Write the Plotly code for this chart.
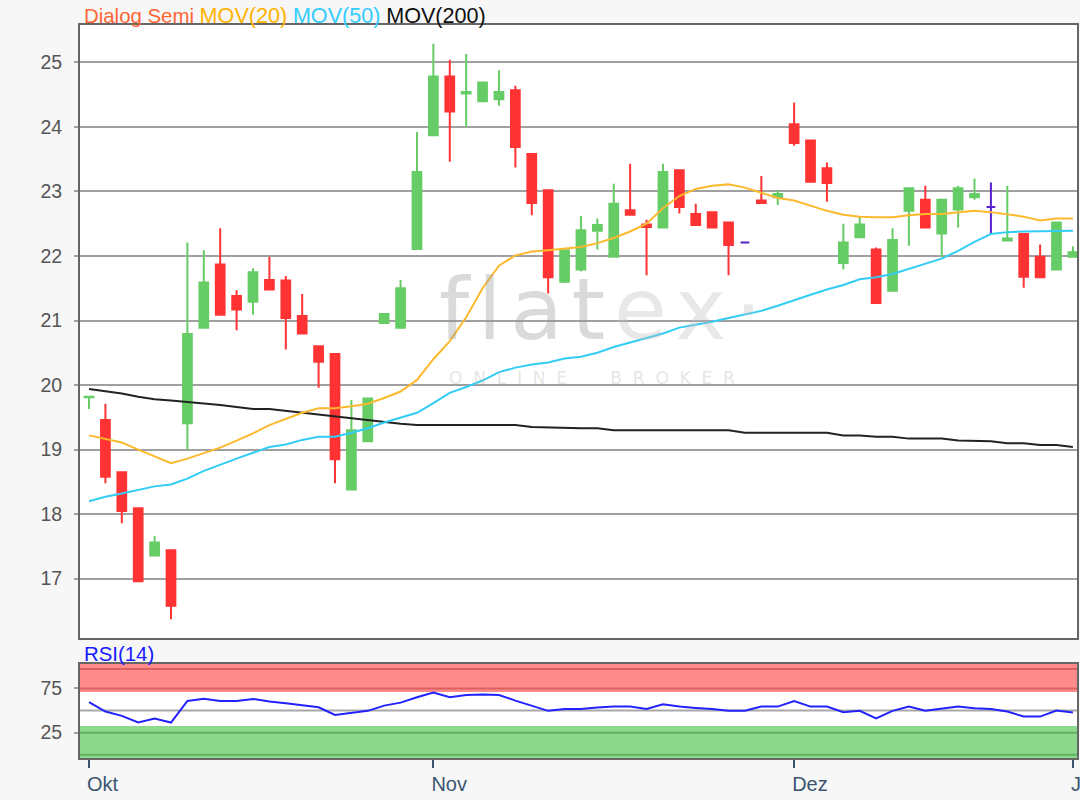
import plotly.graph_objects as go

# -----------------------------
# Daten
# -----------------------------
tage = list(range(61))

eroeffnung = [19.81, 19.46, 18.65, 18.09, 17.36, 17.44, 19.41, 20.89, 21.87, 21.38,
              21.29, 21.63, 21.62, 21.07, 20.60, 20.48, 18.38, 19.13, 20.96, 20.89,
              22.11, 23.87, 24.78, 24.52, 24.40, 24.43, 24.57, 23.58, 23.02, 21.60,
              21.79, 22.39, 21.99, 22.71, 22.49, 22.44, 23.33, 22.65, 22.68, 22.52,
              22.21, 22.86, 22.91, 24.04, 23.79, 23.36, 21.89, 22.29, 22.10, 21.46,
              22.70, 22.87, 22.35, 22.72, 22.91, 22.76, 22.24, 22.34, 21.99, 21.79,
              21.99]
hoch = [19.82, 19.71, 18.65, 18.09, 17.66, 17.44, 22.21, 22.09, 22.43, 21.47,
        21.81, 21.99, 21.69, 21.41, 20.60, 20.48, 19.77, 19.79, 21.10, 21.63,
        23.92, 25.29, 25.04, 25.13, 24.69, 24.88, 24.64, 23.58, 23.02, 22.09,
        22.62, 22.58, 23.12, 23.43, 22.56, 23.43, 23.33, 22.81, 22.68, 22.52,
        22.21, 23.24, 23.01, 24.38, 23.79, 23.45, 22.50, 22.60, 22.13, 22.43,
        23.05, 23.09, 22.87, 23.09, 23.20, 23.14, 23.09, 22.34, 22.18, 22.52,
        22.15]
tief = [19.63, 18.48, 17.86, 16.96, 17.36, 16.37, 19.00, 20.89, 21.09, 20.85,
        21.09, 21.48, 20.55, 20.80, 19.96, 18.48, 18.38, 19.13, 20.96, 20.89,
        22.11, 23.87, 23.46, 24.00, 24.40, 24.33, 23.37, 22.63, 21.42, 21.58,
        21.76, 22.10, 21.99, 22.64, 21.70, 22.44, 22.66, 22.48, 22.44, 21.70,
        22.21, 22.82, 22.79, 23.71, 23.15, 22.84, 21.79, 22.29, 21.27, 21.46,
        22.16, 22.44, 21.98, 22.44, 22.87, 22.34, 22.24, 21.51, 21.67, 21.79,
        21.99]
schluss = [19.82, 18.58, 18.05, 16.96, 17.56, 16.58, 20.79, 21.59, 21.09, 21.17,
           21.75, 21.48, 21.04, 20.80, 20.36, 18.85, 19.30, 19.79, 21.10, 21.50,
           23.30, 24.78, 24.24, 24.54, 24.69, 24.54, 23.69, 22.82, 21.67, 22.09,
           22.40, 22.48, 22.81, 22.64, 22.45, 23.30, 22.76, 22.48, 22.44, 22.17,
           22.21, 22.82, 22.96, 23.75, 23.15, 23.13, 22.21, 22.49, 21.27, 22.25,
           23.05, 22.44, 22.87, 23.05, 22.96, 22.76, 22.27, 21.68, 21.67, 22.52,
           22.06]

mov20 = [19.22, 19.17, 19.11, 19.00, 18.90, 18.79, 18.86, 18.94, 19.03, 19.14,
         19.25, 19.38, 19.48, 19.57, 19.64, 19.64, 19.67, 19.71, 19.80, 19.90,
         20.08, 20.40, 20.68, 21.05, 21.50, 21.85, 22.01, 22.07, 22.09, 22.11,
         22.14, 22.20, 22.28, 22.38, 22.50, 22.74, 22.93, 23.04, 23.09, 23.11,
         23.06, 22.98, 22.90, 22.86, 22.78, 22.70, 22.64, 22.61, 22.60, 22.60,
         22.63, 22.65, 22.65, 22.68, 22.70, 22.68, 22.65, 22.61, 22.55, 22.58,
         22.58]
mov50 = [18.20, 18.27, 18.32, 18.38, 18.43, 18.46, 18.55, 18.67, 18.77, 18.86,
         18.95, 19.04, 19.08, 19.15, 19.20, 19.20, 19.26, 19.33, 19.42, 19.50,
         19.57, 19.72, 19.88, 19.97, 20.07, 20.20, 20.27, 20.32, 20.35, 20.41,
         20.44, 20.50, 20.59, 20.66, 20.73, 20.80, 20.89, 20.93, 20.98, 21.04,
         21.10, 21.15, 21.23, 21.32, 21.40, 21.48, 21.55, 21.64, 21.67, 21.72,
         21.80, 21.88, 21.96, 22.08, 22.22, 22.34, 22.37, 22.38, 22.38, 22.39,
         22.39]
mov200 = [19.94, 19.91, 19.87, 19.82, 19.78, 19.76, 19.74, 19.72, 19.69, 19.66,
          19.63, 19.63, 19.60, 19.57, 19.54, 19.52, 19.49, 19.46, 19.42, 19.40,
          19.38, 19.38, 19.38, 19.38, 19.38, 19.38, 19.38, 19.35, 19.34, 19.33,
          19.33, 19.33, 19.30, 19.30, 19.30, 19.30, 19.30, 19.30, 19.30, 19.30,
          19.26, 19.26, 19.26, 19.26, 19.26, 19.26, 19.22, 19.22, 19.20, 19.20,
          19.17, 19.17, 19.17, 19.14, 19.14, 19.13, 19.10, 19.10, 19.07, 19.07,
          19.04]

rsi = [59.5, 48.9, 44.0, 36.5, 41.0, 36.5, 60.9, 63.5, 60.9, 60.9,
       63.2, 60.2, 58.4, 56.4, 53.8, 45.1, 47.7, 49.7, 55.6, 59.0,
       65.1, 70.3, 65.1, 67.7, 68.1, 67.7, 61.3, 55.3, 49.7, 51.9,
       51.9, 53.6, 54.5, 54.5, 51.9, 57.2, 54.5, 53.0, 51.9, 49.7,
       49.7, 54.5, 54.5, 60.9, 54.5, 54.5, 48.2, 49.7, 41.0, 49.7,
       54.5, 49.7, 51.9, 54.5, 52.7, 51.9, 48.9, 43.2, 43.2, 50.0,
       47.7]

monat_pos = [0, 21, 43, 60]
monat_text = ["Okt", "Nov", "Dez", "J"]   # "Jan" ist im Original am Rand abgeschnitten

kurs_ticks = [17, 18, 19, 20, 21, 22, 23, 24, 25]
rsi_ticks = [25, 75]
rsi_band_oben = 71
rsi_band_unten = 32.5

FONT = "Liberation Sans, Arial, sans-serif"
GRUEN = "#66cc66"
ROT = "#ff3333"
LILA = "#5522cc"


def auswahl(werte, idx):
    return [werte[i] for i in idx]


# Kerzen nach Richtung aufteilen
steigend = [i for i in tage if schluss[i] > eroeffnung[i]]
fallend = [i for i in tage if schluss[i] < eroeffnung[i]]
gleich = [i for i in tage if schluss[i] == eroeffnung[i]]

fig = go.Figure()

for idx, farbe in [(steigend, GRUEN), (fallend, ROT), (gleich, LILA)]:
    fig.add_trace(go.Candlestick(
        x=auswahl(tage, idx),
        open=auswahl(eroeffnung, idx),
        high=auswahl(hoch, idx),
        low=auswahl(tief, idx),
        close=auswahl(schluss, idx),
        increasing=dict(line=dict(color=farbe, width=2), fillcolor=farbe),
        decreasing=dict(line=dict(color=farbe, width=2), fillcolor=farbe),
        whiskerwidth=0,
        showlegend=False,
        xaxis="x", yaxis="y"
    ))

# Gleitende Durchschnitte
for werte, farbe in [(mov200, "#222222"), (mov50, "#33ccf5"), (mov20, "#fdb92e")]:
    fig.add_trace(go.Scatter(
        x=tage, y=werte, mode="lines",
        line=dict(color=farbe, width=2),
        showlegend=False, xaxis="x", yaxis="y"
    ))

# RSI
fig.add_trace(go.Scatter(
    x=tage, y=rsi, mode="lines",
    line=dict(color="#2222ff", width=2),
    showlegend=False, xaxis="x2", yaxis="y2"
))

# -----------------------------
# RSI-Bänder
# -----------------------------
shapes = [
    dict(type="rect", xref="x2 domain", yref="y2", x0=0, x1=1, y0=rsi_band_oben, y1=103,
         fillcolor="#ff8a8a", line_width=0, layer="below"),
    dict(type="rect", xref="x2 domain", yref="y2", x0=0, x1=1, y0=-4, y1=rsi_band_unten,
         fillcolor="#8cd88c", line_width=0, layer="below"),
]
for yv, farbe in [(75, "#dd6060"), (97, "#dd6060"), (25, "#5fb05f"), (0, "#5fb05f"),
                  (50, "#a8a8a8")]:
    shapes.append(dict(type="line", xref="x2 domain", yref="y2", x0=0, x1=1, y0=yv, y1=yv,
                       line=dict(color=farbe, width=2), layer="below"))

hs = "\u200a"
mov_stil = "font-size:21.6px"
annotations = [
    dict(xref="paper", yref="paper", x=0.002, y=1.0136, xanchor="left", yanchor="middle",
         showarrow=False, font=dict(family=FONT, size=20.4),
         text='<span style="color:#ff6633">Dialog Semi</span> '
              f'<span style="color:#ffb300;{mov_stil}">MOV(20)</span> '
              f'<span style="color:#33ccff;{mov_stil}">MOV(50)</span> '
              f'<span style="color:#111111;{mov_stil}">MOV(200)</span>'),
    dict(xref="paper", yref="paper", x=0.002, y=0.1419, xanchor="left", yanchor="middle",
         showarrow=False, font=dict(family=FONT, size=20.4, color="#1a1aff"),
         text="RSI(14)"),
    # Wasserzeichen
    dict(xref="paper", yref="paper", x=0.5225, y=0.612, xanchor="center", yanchor="middle",
         showarrow=False, font=dict(family="DejaVu Sans", size=86),
         text='<span style="color:rgba(150,150,150,0.35)">' + hs.join("flat") + '</span>'
              + hs + '<span style="color:rgba(190,190,190,0.35)">' + hs.join("ex·")
              + '</span>'),
    dict(xref="paper", yref="paper", x=0.514, y=0.518, xanchor="center", yanchor="middle",
         showarrow=False, font=dict(family="DejaVu Sans", size=17, color="rgba(190,190,190,0.4)"),
         text="\u00a0\u00a0".join("ONLINE") + "\u00a0" * 8 + "\u00a0\u00a0".join("BROKER")),
]

achse = dict(showline=True, linecolor="#666666", linewidth=2, mirror=True, zeroline=False)

fig.update_layout(
    width=1080, height=800,
    margin=dict(l=80, r=3, t=25, b=42),
    paper_bgcolor="#f7f7f7",
    plot_bgcolor="white",
    boxgap=0.24,
    showlegend=False,
    xaxis=dict(**achse, domain=[0, 1], range=[-0.55, 60.25], showgrid=False,
               showticklabels=False, ticks="", rangeslider=dict(visible=False),
               anchor="y", automargin=False),
    yaxis=dict(**achse, domain=[0.1637, 1], range=[16.08, 25.58], tickvals=kurs_ticks,
               showgrid=True, gridcolor="#a0a0a0", gridwidth=2,
               ticks="outside", ticklen=4, tickwidth=2, tickcolor="#a0a0a0",
               ticklabelstandoff=8, automargin=False,
               tickfont=dict(family=FONT, size=19.5, color="#555555"), anchor="x"),
    xaxis2=dict(**achse, domain=[0, 1], range=[-0.55, 60.25], showgrid=False,
                tickvals=monat_pos, ticktext=monat_text, ticks="outside",
                ticklen=8, tickwidth=2, tickcolor="#3a5570",
                ticklabelposition="outside right", ticklabeloverflow="allow",
                ticklabelstandoff=7, ticklabelshift=-4,
                automargin=False,
                tickfont=dict(family=FONT, size=20, color="#3a5570"), anchor="y2"),
    yaxis2=dict(**achse, domain=[0, 0.1282], range=[-3.7, 102.7], tickvals=rsi_ticks,
                showgrid=False, ticks="outside", ticklen=4, tickwidth=2, tickcolor="#a0a0a0",
                ticklabelstandoff=8, automargin=False,
                tickfont=dict(family=FONT, size=19.5, color="#555555"), anchor="x2"),
    shapes=shapes,
    annotations=annotations,
)

# Seitenrand des Browsers entfernen, damit die Grafik bei (0, 0) beginnt
fig.write_html("out.html", config={"displayModeBar": False},
               post_script="document.body.style.margin = '0';")
